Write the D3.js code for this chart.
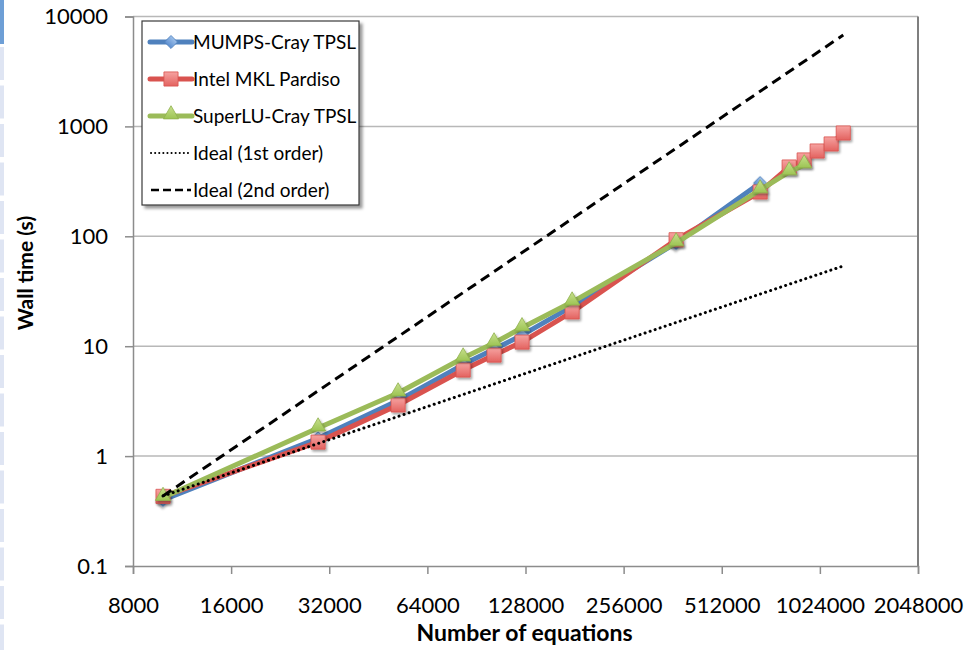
<!DOCTYPE html>
<html>
<head>
<meta charset="utf-8">
<script src="https://cdn.jsdelivr.net/npm/d3@7"></script>
<style>
  body { margin: 0; background: #fff; overflow: hidden; }
  svg { display: block; font-family: Lato, "Open Sans", sans-serif; }
</style>
</head>
<body>
<div id="chart"></div>
<script>
// values
const xTicks = [8000, 16000, 32000, 64000, 128000, 256000, 512000, 1024000, 2048000];
const yTicks = [0.1, 1, 10, 100, 1000, 10000];

const mumpsN = [9890, 29570, 52040, 82400, 102500, 124900, 177900, 370900, 671400];
const mumpsT = [0.40, 1.45, 3.2, 6.8, 9.4, 12.6, 23, 87, 305];

const pardisoN = [9890, 29570, 52040, 82400, 102500, 124900, 177900, 370900, 671400, 824300, 916600, 1004600, 1109000, 1208000];
const pardisoT = [0.43, 1.34, 2.92, 6.07, 8.3, 10.9, 20.5, 93, 253, 427, 495, 597, 692, 871];

const superluN = [9890, 29570, 52040, 82400, 102500, 124900, 177900, 370900, 671400, 824300, 916600];
const superluT = [0.42, 1.80, 3.75, 7.8, 10.7, 14.7, 25.2, 87, 264, 385, 446];

const ideal1N = [9890, 1208000];
const ideal1T = [0.434, 53.7];
const ideal2N = [9890, 1208000];
const ideal2T = [0.434, 6790];

const width = 967, height = 650;
const margin = {top: 16.5, right: 49, bottom: 84, left: 133};
const innerWidth = width - margin.left - margin.right;
const innerHeight = height - margin.top - margin.bottom;

const svg = d3.select("#chart")
  .append("svg")
    .attr("width", width)
    .attr("height", height)
    .attr("viewBox", `0 0 ${width} ${height}`);

// slide sidebar strip on the far left
const strip = svg.append("g");
strip.append("rect")
  .attr("x", 0).attr("y", 0).attr("width", 4).attr("height", 44)
  .attr("fill", "#6e9fd6");
d3.range(47, 650, 38.5).forEach(y => {
  strip.append("rect")
    .attr("x", 0).attr("y", y).attr("width", 4).attr("height", 33)
    .attr("fill", "#dfe5f3");
});

const defs = svg.append("defs");
const shadow = defs.append("filter").attr("id", "shadow")
  .attr("x", "-50%").attr("y", "-50%").attr("width", "200%").attr("height", "200%");
shadow.append("feDropShadow")
  .attr("dx", 1.5).attr("dy", 2).attr("stdDeviation", 1.2)
  .attr("flood-color", "#000").attr("flood-opacity", 0.35);

const boxShadow = defs.append("filter").attr("id", "boxshadow")
  .attr("x", "-10%").attr("y", "-10%").attr("width", "120%").attr("height", "120%");
boxShadow.append("feDropShadow")
  .attr("dx", 3).attr("dy", 3).attr("stdDeviation", 1.5)
  .attr("flood-color", "#000").attr("flood-opacity", 0.4);

function grad(id, c1, c2) {
  const g = defs.append("linearGradient").attr("id", id)
    .attr("x1", 0).attr("y1", 0).attr("x2", 0).attr("y2", 1);
  g.append("stop").attr("offset", "0%").attr("stop-color", c1);
  g.append("stop").attr("offset", "100%").attr("stop-color", c2);
}
grad("gRed", "#f6a3a1", "#e3625f");
grad("gGreen", "#c8e08e", "#9cc453");
grad("gBlue", "#9dc0ea", "#5d8fd0");

const xScale = d3.scaleLog().base(2)
  .domain([8000, 2048000])
  .range([0, innerWidth]);
const yScale = d3.scaleLog()
  .domain([0.1, 10000])
  .range([innerHeight, 0]);

const chart = svg.append("g")
  .attr("transform", `translate(${margin.left}, ${margin.top})`);

// gridlines
chart.selectAll(".grid")
  .data(yTicks.filter(d => d > 0.1))
  .join("line")
    .attr("class", "grid")
    .attr("x1", 0).attr("x2", innerWidth)
    .attr("y1", d => yScale(d)).attr("y2", d => yScale(d))
    .attr("stroke", "#b8b8b8")
    .attr("stroke-width", 1.5);

// right border of plot area
chart.append("line")
  .attr("x1", innerWidth).attr("x2", innerWidth)
  .attr("y1", 0).attr("y2", innerHeight)
  .attr("stroke", "#7f7f7f").attr("stroke-width", 2);

// axes
const xAxis = chart.append("g")
  .attr("transform", `translate(0, ${innerHeight})`)
  .call(d3.axisBottom(xScale).tickValues(xTicks).tickFormat(d3.format("d")).tickSizeOuter(0).tickSize(8).tickPadding(23));
const yAxis = chart.append("g")
  .call(d3.axisLeft(yScale).tickValues(yTicks).tickFormat(d => d < 1 ? d3.format(".1f")(d) : d3.format("d")(d)).tickSizeOuter(0).tickSize(8).tickPadding(17));

[xAxis, yAxis].forEach(ax => {
  ax.attr("font-size", 22).attr("font-family", "Lato, sans-serif");
  ax.select(".domain").attr("stroke", "#8c8c8c").attr("stroke-width", 1.5);
  ax.selectAll(".tick line").attr("stroke", "#8c8c8c").attr("stroke-width", 1.5);
  ax.selectAll(".tick text").attr("fill", "#000");
});

// series
const series = [
  {name: "MUMPS-Cray TPSL", n: mumpsN, t: mumpsT, color: "#4f81bd", marker: "diamond", fill: "url(#gBlue)", stroke: "#4f81bd"},
  {name: "Intel MKL Pardiso", n: pardisoN, t: pardisoT, color: "#d9534f", marker: "square", fill: "url(#gRed)", stroke: "#d9534f"},
  {name: "SuperLU-Cray TPSL", n: superluN, t: superluT, color: "#9bbb59", marker: "triangle", fill: "url(#gGreen)", stroke: "#8fb04c"}
];

const lineGen = d3.line()
  .x(d => xScale(d[0]))
  .y(d => yScale(d[1]));

const symbolFor = {
  diamond: d3.symbol().type(d3.symbolSquare).size(85),
  square: d3.symbol().type(d3.symbolSquare).size(200),
  triangle: d3.symbol().type(d3.symbolTriangle).size(100)
};
const rotateFor = {diamond: 45, square: 0, triangle: 0};
const offsetFor = {diamond: 0, square: 0, triangle: -1.5};

series.forEach(s => {
  const pts = s.n.map((n, i) => [n, s.t[i]]);
  chart.append("path")
    .datum(pts)
    .attr("d", lineGen)
    .attr("fill", "none")
    .attr("stroke", s.color)
    .attr("stroke-width", 5)
    .attr("stroke-linejoin", "round");
  chart.selectAll(`.m-${s.marker}`)
    .data(pts)
    .join("path")
      .attr("class", `m-${s.marker}`)
      .attr("transform", d => `translate(${xScale(d[0])}, ${yScale(d[1]) + offsetFor[s.marker]}) rotate(${rotateFor[s.marker]})`)
      .attr("d", symbolFor[s.marker])
      .attr("fill", s.fill)
      .attr("stroke", s.stroke)
      .attr("stroke-width", 0.8)
      .attr("filter", "url(#shadow)");
});

// ideal lines on top
const ideals = [
  {name: "Ideal (1st order)", n: ideal1N, t: ideal1T, dash: "0.1 5.2", width: 3, cap: "round"},
  {name: "Ideal (2nd order)", n: ideal2N, t: ideal2T, dash: "10 6", width: 3, cap: "butt"}
];
ideals.forEach(s => {
  chart.append("path")
    .datum(s.n.map((n, i) => [n, s.t[i]]))
    .attr("d", lineGen)
    .attr("fill", "none")
    .attr("stroke", "#000")
    .attr("stroke-width", s.width)
    .attr("stroke-dasharray", s.dash)
    .attr("stroke-linecap", s.cap);
});

// axis titles
svg.append("text")
  .text("Number of equations")
  .attr("x", margin.left + innerWidth / 2 - 1)
  .attr("y", 641)
  .attr("text-anchor", "middle")
  .attr("font-size", 23)
  .attr("font-weight", 700);

svg.append("text")
  .text("Wall time (s)")
  .attr("transform", "translate(33, 273) rotate(-90)")
  .attr("text-anchor", "middle")
  .attr("font-size", 21)
  .attr("font-weight", 700);

// legend
const legend = svg.append("g").attr("transform", "translate(142, 21)");
legend.append("rect")
  .attr("width", 217).attr("height", 184)
  .attr("fill", "#fff")
  .attr("stroke", "#3a3a3a")
  .attr("stroke-width", 1.2)
  .attr("filter", "url(#boxshadow)");

const legendItems = series.map(s => ({...s, kind: "series"}))
  .concat(ideals.map(s => ({...s, kind: "ideal"})));

legendItems.forEach((item, i) => {
  const y = 21 + i * 37;
  const row = legend.append("g").attr("transform", `translate(0, ${y})`);
  if (item.kind === "series") {
    row.append("line")
      .attr("x1", 8).attr("x2", 50).attr("y1", 0).attr("y2", 0)
      .attr("stroke", item.color).attr("stroke-width", 5).attr("stroke-linecap", "round");
    row.append("path")
      .attr("transform", `translate(29, ${offsetFor[item.marker]}) rotate(${rotateFor[item.marker]})`)
      .attr("d", symbolFor[item.marker])
      .attr("fill", item.fill)
      .attr("stroke", item.stroke)
      .attr("stroke-width", 0.8);
  } else {
    row.append("line")
      .attr("x1", 9).attr("x2", 49).attr("y1", 0).attr("y2", 0)
      .attr("stroke", "#000")
      .attr("stroke-width", i === 3 ? 2 : 2.5)
      .attr("stroke-dasharray", i === 3 ? "0.1 4" : "8 4")
      .attr("stroke-linecap", i === 3 ? "round" : "butt");
  }
  row.append("text")
    .text(item.name)
    .attr("x", 51)
    .attr("y", 0)
    .attr("dy", "0.35em")
    .attr("font-size", 19);
});
</script>
</body>
</html>
